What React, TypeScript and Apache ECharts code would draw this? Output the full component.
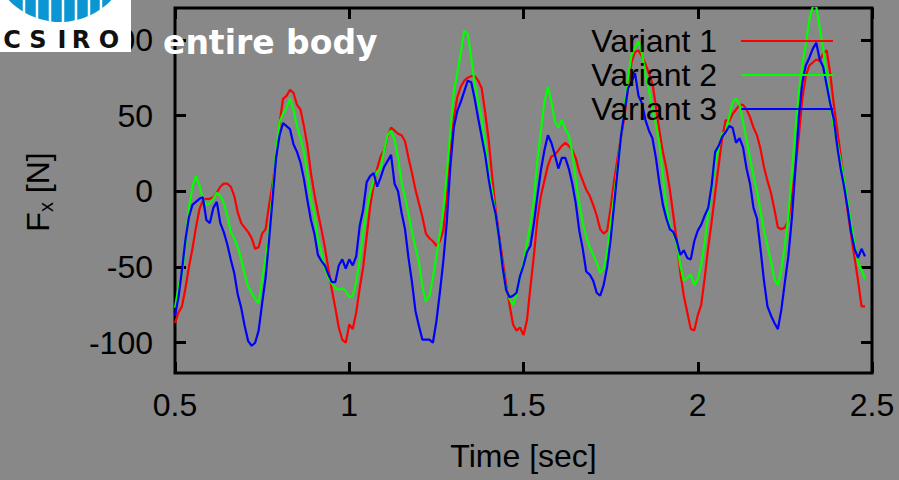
import React, { useEffect, useRef } from 'react';
import * as echarts from 'echarts';

// ---- data ----
const SERIES_NAMES = ['Variant 1', 'Variant 2', 'Variant 3'];
const SERIES_COLORS = ['#ff0000', '#00ff00', '#0000ff'];
const TIME_START = 0.5; // sec, first sample
const TIME_STEP = 0.01; // sec, sampling step

const VARIANT_1 = [
  -87, -80, -76, -64, -50, -38, -24, -12, -6, -5,
  -5, -4, -1, 3, 5, 5, 3, -3, -14, -21,
  -24, -27, -31, -38, -37, -28, -25, -9, 5, 22,
  45, 61, 63, 67, 65, 57, 54, 43, 30, 12,
  -2, -14, -25, -37, -51, -65, -77, -90, -98, -100,
  -88, -91, -80, -64, -50, -30, -10, 4, 15, 23,
  27, 36, 42, 40, 38, 37, 33, 22, 12, 1,
  -8, -17, -28, -31, -33, -36, -33, -26, -5, 27,
  48, 62, 69, 73, 75, 76, 76, 73, 68, 52,
  34, 10, -12, -29, -45, -61, -75, -88, -92, -90,
  -95, -85, -63, -42, -18, -3, 7, 17, 23, 24,
  27, 30, 32, 30, 27, 22, 13, 7, 1, -3,
  -9, -16, -25, -28, -26, -11, 7, 22, 36, 50,
  69, 85, 92, 93, 89, 84, 78, 71, 56, 40,
  26, 15, 1, -16, -33, -54, -69, -80, -91, -92,
  -82, -75, -57, -37, -20, -1, 17, 35, 47, 46,
  51, 54, 57, 57, 54, 49, 42, 37, 28, 16,
  7, -1, -12, -24, -25, -24, -19, -4, 15, 36,
  61, 76, 83, 85, 87, 86, 91, 93, 78, 58,
  41, 24, 5, -13, -29, -44, -59, -76, -76,
];

const VARIANT_2 = [
  -77, -63, -55, -35, -11, 3, 10, 4, -5, -9,
  -8, -5, -1, -3, -8, -16, -27, -31, -37, -45,
  -55, -63, -67, -71, -74, -58, -44, -28, 0, 26,
  46, 51, 55, 61, 54, 43, 35, 26, 11, -6,
  -15, -32, -40, -51, -57, -61, -64, -65, -64, -66,
  -70, -69, -60, -45, -27, -13, -1, 7, 13, 15,
  27, 37, 40, 34, 22, 6, -4, -15, -27, -37,
  -47, -63, -73, -69, -57, -43, -28, -12, 12, 39,
  66, 78, 91, 106, 104, 88, 71, 59, 48, 31,
  12, 0, -16, -31, -50, -64, -71, -75, -68, -56,
  -47, -34, -22, -5, 21, 40, 59, 69, 59, 46,
  42, 47, 41, 37, 25, 8, -8, -21, -30, -37,
  -42, -47, -54, -51, -40, -22, -3, 16, 37, 55,
  75, 90, 95, 99, 91, 77, 67, 54, 44, 31,
  10, -10, -23, -28, -35, -49, -59, -57, -55, -62,
  -58, -48, -34, -15, 2, 18, 29, 38, 39, 49,
  59, 61, 57, 46, 34, 22, 10, 0, -13, -26,
  -36, -46, -58, -62, -52, -36, -16, 12, 40, 66,
  83, 97, 113, 122, 122, 108, 94, 75, 58, 43,
  32, 20, 7, -7, -22, -35, -47, -52, -58,
];

const VARIANT_3 = [
  -82, -70, -52, -32, -17, -9, -7, -5, -4, -19,
  -21, -11, -7, -21, -27, -35, -45, -54, -68, -77,
  -89, -99, -102, -100, -92, -74, -57, -32, -5, 22,
  37, 45, 43, 41, 31, 26, 19, 8, -6, -19,
  -28, -42, -46, -49, -55, -60, -60, -49, -45, -51,
  -45, -49, -43, -23, -12, 6, 10, 12, 3, 9,
  16, 20, 24, 5, 0, -14, -25, -44, -60, -79,
  -89, -98, -98, -98, -100, -86, -67, -46, -20, 16,
  42, 53, 59, 66, 73, 72, 61, 48, 36, 24,
  8, -5, -15, -31, -50, -65, -70, -69, -67, -56,
  -49, -40, -36, -21, -3, 14, 27, 37, 32, 24,
  15, 22, 22, 15, 5, -8, -26, -38, -53, -55,
  -59, -67, -69, -62, -50, -32, -9, 14, 37, 53,
  68, 72, 78, 63, 58, 47, 40, 35, 22, 5,
  -9, -18, -25, -27, -33, -42, -39, -44, -45, -33,
  -26, -22, -16, -11, 4, 26, 30, 36, 39, 43,
  42, 32, 35, 29, 15, 5, -11, -18, -38, -59,
  -76, -82, -87, -91, -78, -60, -43, -18, 14, 49,
  72, 83, 88, 94, 98, 87, 82, 70, 58, 48,
  30, 15, 3, -11, -27, -38, -44, -38, -43,
];

const SERIES_VALUES = [VARIANT_1, VARIANT_2, VARIANT_3];

const X_MIN = 0.5;
const X_MAX = 2.5;
const X_INTERVAL = 0.5;
const Y_MIN = -120;
const Y_MAX = 121;
const Y_TICKS = [-100, -50, 0, 50, 100];

const TITLE = 'entire body';
const X_NAME = 'Time [sec]';
const LOGO_LETTERS = ['C', 'S', 'I', 'R', 'O'];

const FONT = '"Liberation Sans", Arial, Helvetica, sans-serif';

export default function App() {
  const ref = useRef<HTMLDivElement>(null);

  useEffect(() => {
    if (!ref.current) return;
    const chart = echarts.init(ref.current, null, { renderer: 'svg' });

    const toPairs = (vals: number[]) =>
      vals.map((v, i) => [Number((TIME_START + i * TIME_STEP).toFixed(2)), v]);

    const tickStyle = { color: '#000', width: 3 };

    const series = SERIES_VALUES.map((vals, i) => ({
      name: SERIES_NAMES[i],
      type: 'line',
      data: toPairs(vals),
      showSymbol: false,
      symbol: 'none',
      clip: true,
      lineStyle: { color: SERIES_COLORS[i], width: 2.2 },
      itemStyle: { color: SERIES_COLORS[i] },
      xAxisIndex: 0,
      yAxisIndex: 0,
      z: 2 + i,
    }));

    const logoStripes = [24, 37, 50, 63, 76, 89, 101].map((x) => ({
      type: 'line',
      shape: { x1: x, y1: 0, x2: x, y2: 25 },
      style: { stroke: '#ffffff', lineWidth: 2.5 },
      z: 102,
    }));
    const letterX = [12, 38, 62, 81, 109];
    const logoLetters = LOGO_LETTERS.map((ch, i) => ({
      type: 'text',
      x: letterX[i],
      y: 40,
      style: {
        text: ch,
        fill: '#111111',
        fontSize: 24,
        fontWeight: 'bold',
        fontFamily: '"DejaVu Sans", sans-serif',
        align: 'center',
        verticalAlign: 'middle',
      },
      z: 103,
    }));

    const legendItems: any[] = [];
    SERIES_NAMES.forEach((name, i) => {
      const y = 41 + i * 34;
      legendItems.push({
        type: 'text',
        x: 717,
        y: y,
        style: {
          text: name,
          fill: '#000',
          fontSize: 32,
          fontFamily: FONT,
          align: 'right',
          verticalAlign: 'middle',
        },
        z: 110,
      });
      legendItems.push({
        type: 'line',
        shape: { x1: 741, y1: y, x2: 833, y2: y },
        style: { stroke: SERIES_COLORS[i], lineWidth: 2.2 },
        z: 110,
      });
    });

    const option: any = {
      animation: false,
      backgroundColor: '#888888',
      grid: {
        left: 175,
        right: 27,
        top: 8,
        bottom: 107,
        show: true,
        borderColor: '#000',
        borderWidth: 3,
        backgroundColor: 'transparent',
        containLabel: false,
      },
      xAxis: [
        {
          type: 'value',
          min: X_MIN,
          max: X_MAX,
          interval: X_INTERVAL,
          position: 'bottom',
          name: X_NAME,
          nameLocation: 'middle',
          nameGap: 67,
          nameTextStyle: { fontSize: 32, color: '#000', fontFamily: FONT },
          axisLine: { show: false, onZero: false },
          splitLine: { show: false },
          axisTick: { show: true, inside: true, length: 11, lineStyle: tickStyle },
          axisLabel: {
            show: true,
            fontSize: 32,
            color: '#000',
            fontFamily: FONT,
            margin: 16,
          },
        },
        {
          type: 'value',
          min: X_MIN,
          max: X_MAX,
          interval: X_INTERVAL,
          position: 'top',
          axisLine: { show: false, onZero: false },
          splitLine: { show: false },
          axisTick: { show: true, inside: true, length: 11, lineStyle: tickStyle },
          axisLabel: { show: false },
        },
      ],
      yAxis: [
        {
          type: 'value',
          min: Y_MIN,
          max: Y_MAX,
          position: 'left',
          axisLine: { show: false, onZero: false },
          splitLine: { show: false },
          axisTick: {
            show: true,
            inside: true,
            length: 11,
            lineStyle: tickStyle,
            customValues: Y_TICKS,
          },
          axisLabel: {
            show: true,
            fontSize: 32,
            color: '#000',
            fontFamily: FONT,
            margin: 22,
            customValues: Y_TICKS,
          },
        },
        {
          type: 'value',
          min: Y_MIN,
          max: Y_MAX,
          position: 'right',
          axisLine: { show: false, onZero: false },
          splitLine: { show: false },
          axisTick: {
            show: true,
            inside: true,
            length: 11,
            lineStyle: tickStyle,
            customValues: Y_TICKS,
          },
          axisLabel: { show: false, customValues: Y_TICKS },
        },
      ],
      series,
      graphic: [
        // logo
        {
          type: 'rect',
          shape: { x: 0, y: 0, width: 131, height: 52 },
          style: { fill: '#ffffff' },
          z: 100,
        },
        {
          type: 'circle',
          shape: { cx: 60, cy: -49, r: 71 },
          style: { fill: '#0b96d3' },
          z: 101,
        },
        ...logoStripes,
        ...logoLetters,
        // title
        {
          type: 'text',
          x: 163,
          y: 42,
          style: {
            text: TITLE,
            fill: '#ffffff',
            fontSize: 33,
            fontWeight: 'bold',
            fontFamily: '"DejaVu Sans", sans-serif',
            align: 'left',
            verticalAlign: 'middle',
          },
          z: 105,
        },
        // y axis name with subscript
        {
          type: 'text',
          x: 38,
          y: 192,
          rotation: Math.PI / 2,
          style: {
            text: '{a|F}{b|x}{a| [N]}',
            align: 'center',
            verticalAlign: 'middle',
            fill: '#000',
            rich: {
              a: {
                fontSize: 32,
                fontFamily: FONT,
                fill: '#000',
                lineHeight: 36,
                verticalAlign: 'middle',
              },
              b: {
                fontSize: 20,
                fontFamily: FONT,
                fill: '#000',
                lineHeight: 20,
                verticalAlign: 'bottom',
              },
            },
          },
          z: 105,
        },
        ...legendItems,
      ],
    };

    chart.setOption(option);
    return () => chart.dispose();
  }, []);

  return (
    <div
      ref={ref}
      style={{ position: 'fixed', left: 0, top: 0, width: 899, height: 480 }}
    />
  );
}
